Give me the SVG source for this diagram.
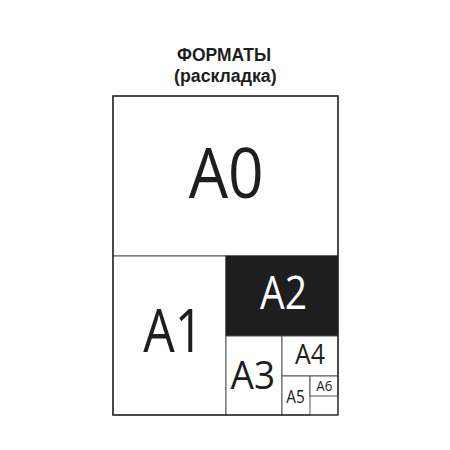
<svg xmlns="http://www.w3.org/2000/svg" width="450" height="450" viewBox="0 0 450 450">
<style>
.t{font-family:"Open Sans","Liberation Sans",sans-serif;fill:#1e1e1e;text-anchor:middle}
.h{font-family:"Liberation Sans",Arial,sans-serif;font-weight:bold;fill:#1e1e1e;text-anchor:middle;font-size:18px}
.c{fill:#fff;stroke:#555;stroke-width:1}
</style>
<rect width="450" height="450" fill="#fff"/>
<g id="title">
<text class="h" x="224" y="61.3" textLength="94" lengthAdjust="spacingAndGlyphs">ФОРМАТЫ</text>
<text class="h" x="225.3" y="81.6" textLength="102.5" lengthAdjust="spacingAndGlyphs">(раскладка)</text>
</g>
<g id="A0"><rect class="c" x="113" y="96" width="225" height="160"/>
<text class="t" x="226.2" y="197.7" font-size="70" textLength="75" lengthAdjust="spacingAndGlyphs">A0</text></g>
<g id="A1"><rect class="c" x="113" y="256" width="113" height="159"/>
<text class="t" x="173.3" y="352.3" font-size="60" textLength="60" lengthAdjust="spacingAndGlyphs">A1</text></g>
<g id="A2"><rect x="226" y="256" width="112" height="80" fill="#1e1e1e" stroke="#1e1e1e"/>
<text class="t" x="283.5" y="309.3" font-size="45.5" textLength="47" lengthAdjust="spacingAndGlyphs" style="fill:#fff">A2</text></g>
<g id="A3"><rect class="c" x="226" y="336" width="56" height="79"/>
<text class="t" x="252.8" y="389" font-size="39" textLength="44.5" lengthAdjust="spacingAndGlyphs">A3</text></g>
<g id="A4"><rect class="c" x="282" y="336" width="56" height="40"/>
<text class="t" x="310" y="364.3" font-size="27" textLength="30" lengthAdjust="spacingAndGlyphs">A4</text></g>
<g id="A5"><rect class="c" x="282" y="376" width="28" height="39"/>
<text class="t" x="295.5" y="402.7" font-size="18.5" textLength="18.5" lengthAdjust="spacingAndGlyphs">A5</text></g>
<g id="A6"><rect class="c" x="310" y="376" width="28" height="20"/>
<text class="t" x="324.3" y="390.7" font-size="15" textLength="16" lengthAdjust="spacingAndGlyphs">A6</text></g>
<g id="connectors"/>
<rect x="113" y="96" width="225" height="319" fill="none" stroke="#2a2a2a" stroke-width="1.5"/>
</svg>
